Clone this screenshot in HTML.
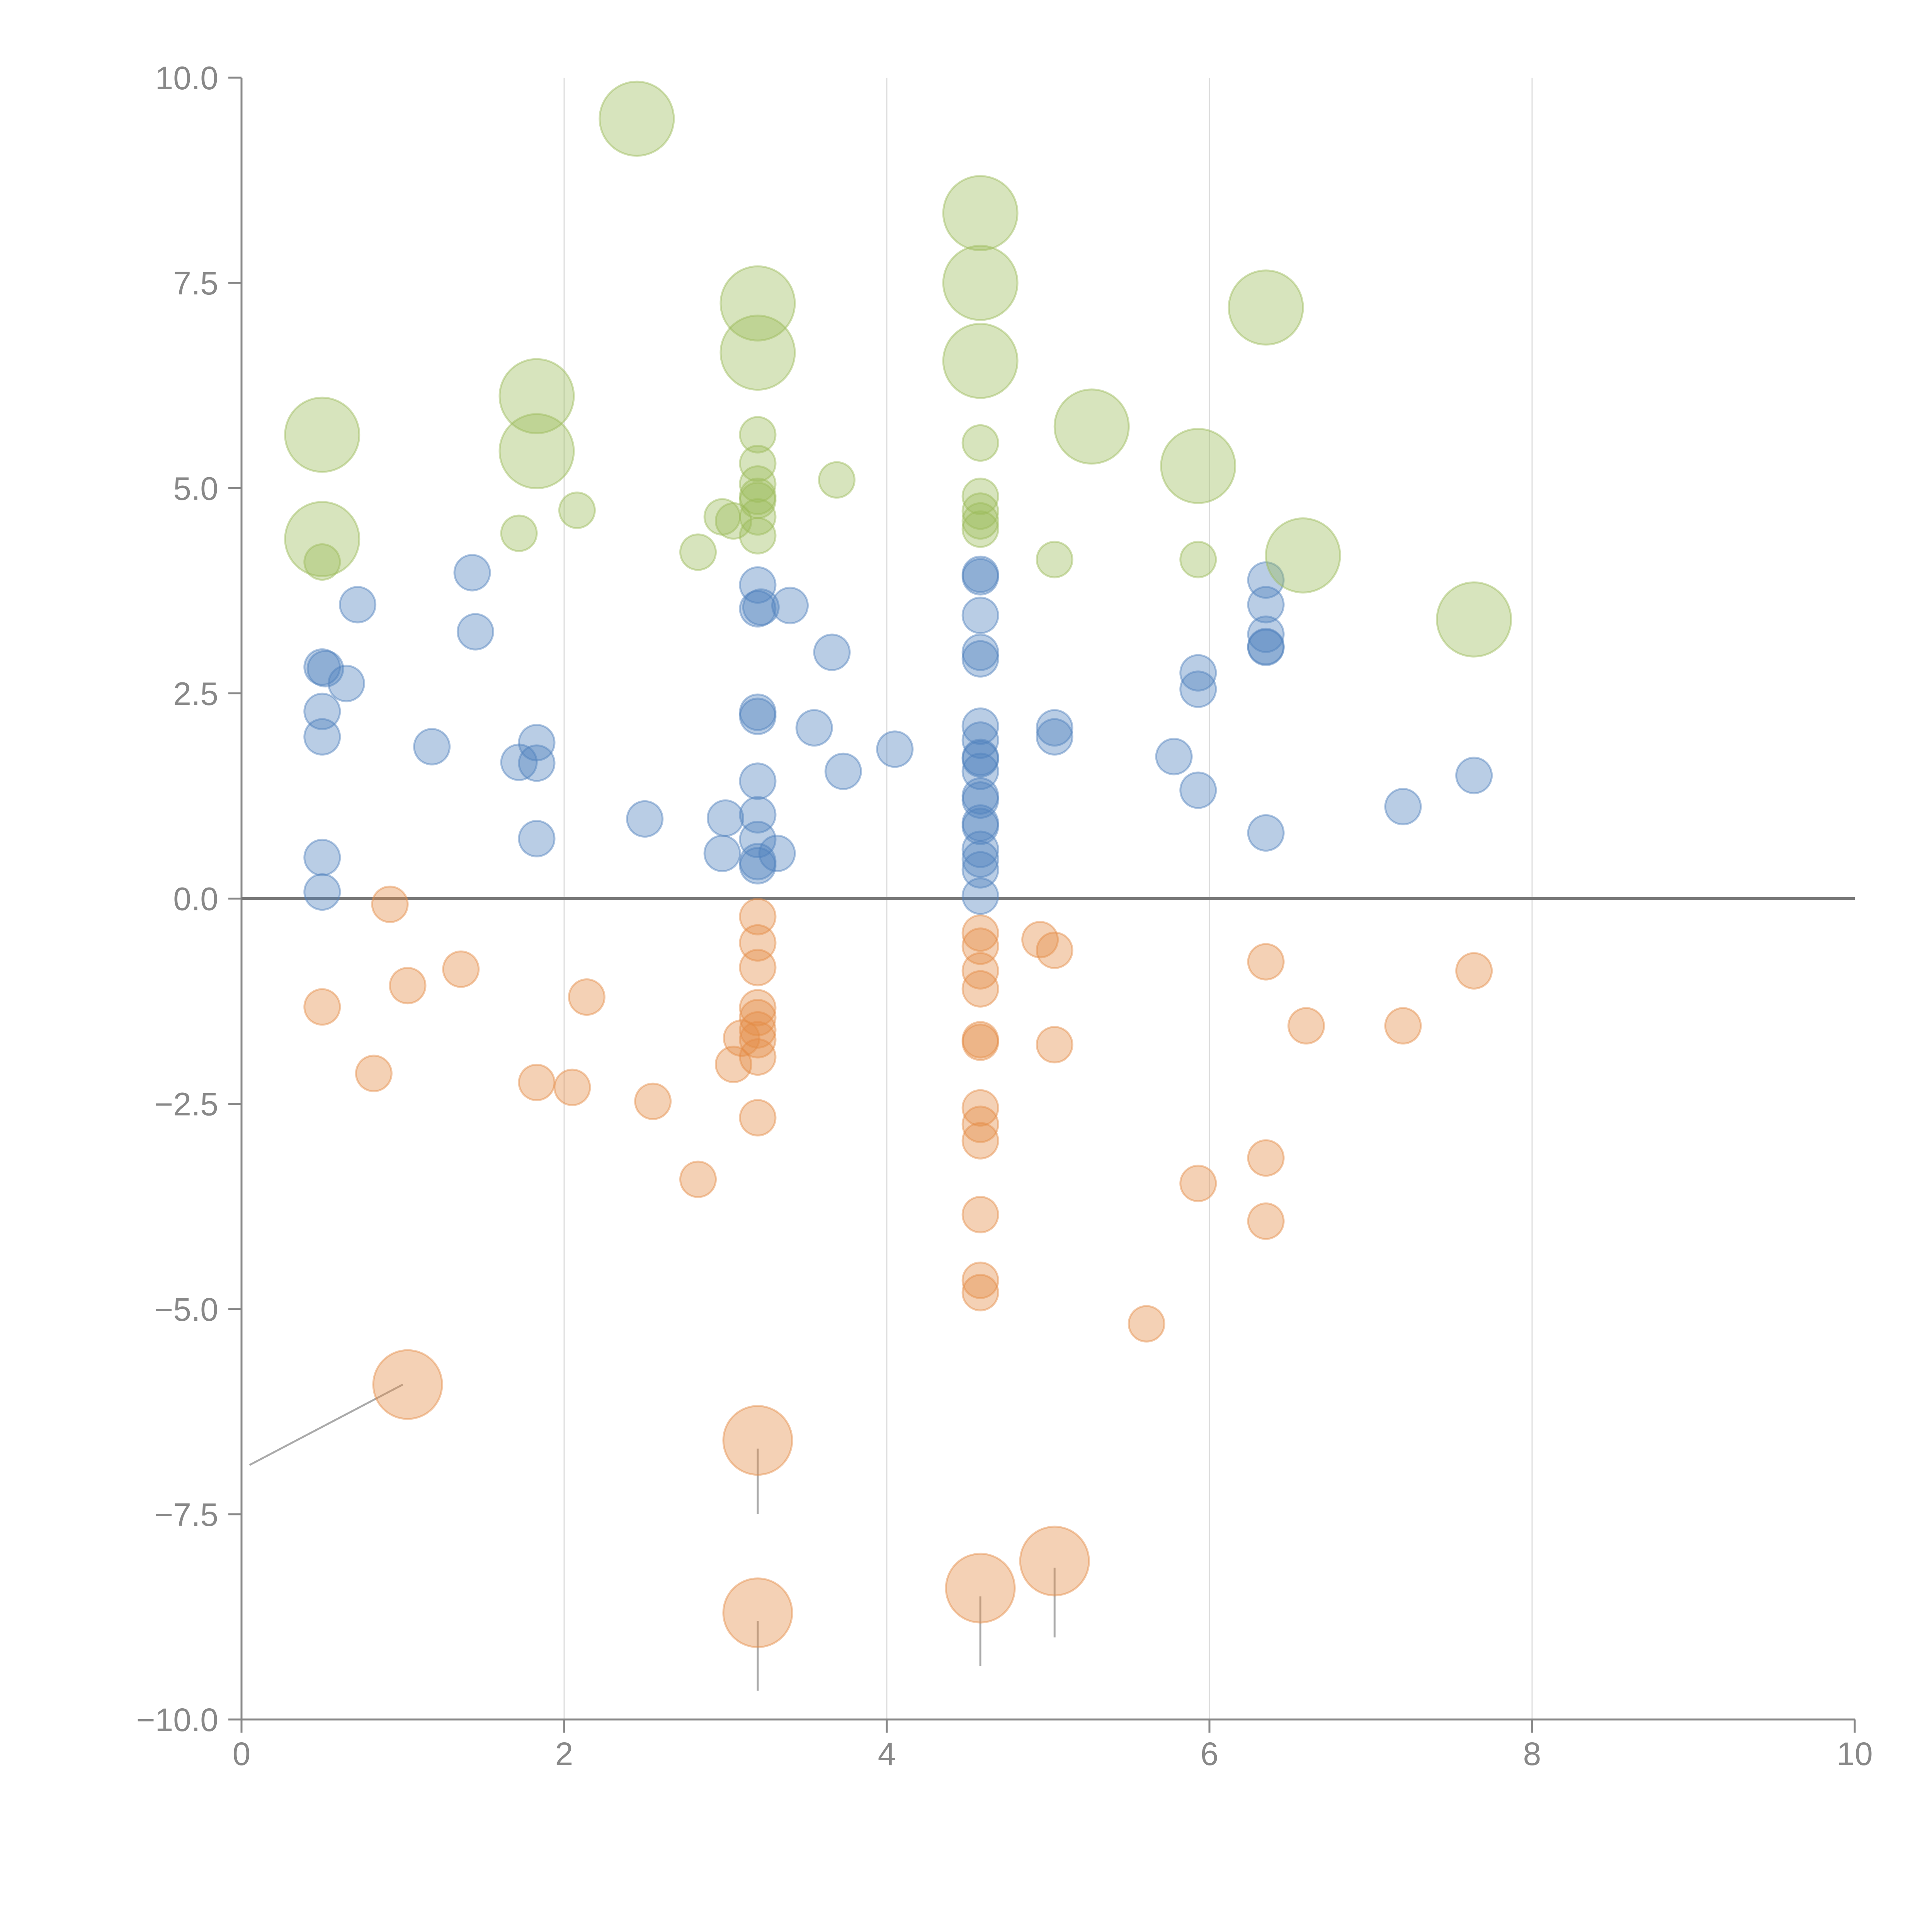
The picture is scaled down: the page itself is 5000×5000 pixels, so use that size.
<!DOCTYPE html>
<html><head><meta charset="utf-8"><style>html,body{margin:0;padding:0;background:#fff}svg{display:block}</style></head>
<body>
<svg id="chart" xmlns="http://www.w3.org/2000/svg" width="5000" height="5000" viewBox="0 0 5000 5000">
<rect width="5000" height="5000" fill="#fff"/>
<g id="grid"></g>
<g id="axes"></g>
<g id="leaders"></g>
<g id="marks"></g>
</svg>
<script>
const xTicks = [0, 2, 4, 6, 8, 10];
const xTickLabels = ["0", "2", "4", "6", "8", "10"];
const yTicks = [10, 7.5, 5, 2.5, 0, -2.5, -5, -7.5, -10];
const yTickLabels = ["10.0", "7.5", "5.0", "2.5", "0.0", "\u22122.5", "\u22125.0", "\u22127.5", "\u221210.0"];
const greenLargeX = [2.45,4.58,4.58,3.2,6.35,3.2,4.58,1.83,0.5,5.27,1.83,5.93,0.5,6.58,7.64];
const greenLargeY = [9.5,8.35,7.5,7.25,7.2,6.65,6.55,6.12,5.65,5.75,5.45,5.27,4.38,4.18,3.4];
const greenSmallX = [0.5,1.72,2.08,2.83,2.98,3.05,3.2,3.2,3.2,3.2,3.2,3.2,3.2,3.69,4.58,4.58,4.58,4.58,4.58,5.04,5.93];
const greenSmallY = [4.1,4.45,4.73,4.22,4.65,4.6,5.65,5.3,5.05,4.85,4.65,4.42,4.9,5.1,5.55,4.9,4.72,4.5,4.6,4.13,4.13];
const blueX = [0.5,0.52,0.65,0.5,0.5,0.5,0.5,0.72,1.43,1.45,1.18,1.72,1.83,1.83,1.83,2.5,2.98,3.0,3.2,3.2,3.22,3.4,3.2,3.2,3.2,3.2,3.2,3.2,3.2,3.32,3.55,3.66,3.73,4.05,4.58,4.58,4.58,4.58,4.58,4.58,4.58,4.58,4.58,4.58,4.58,4.58,4.58,4.58,4.58,4.58,4.58,4.58,5.04,5.04,5.78,5.93,5.93,5.93,6.35,6.35,6.35,6.35,6.35,6.35,7.2,7.64];
const blueY = [2.82,2.8,2.62,2.28,1.97,0.5,0.08,3.58,3.97,3.25,1.85,1.66,1.9,1.65,0.73,0.97,0.55,0.98,3.82,3.53,3.55,3.57,2.27,2.22,1.43,1.02,0.72,0.45,0.4,0.55,2.08,3.0,1.55,1.82,3.95,3.92,3.45,3.0,2.92,2.1,1.93,1.72,1.7,1.55,1.25,1.2,0.92,0.88,0.6,0.48,0.35,0.03,2.08,1.97,1.73,2.75,2.55,1.32,3.88,3.58,3.22,3.07,3.06,0.8,1.12,1.5];
const orangeX = [0.92,0.5,1.03,1.36,0.82,2.14,1.83,2.05,2.55,2.83,3.05,3.1,3.2,3.2,3.2,3.2,3.2,3.2,3.2,3.2,3.2,4.58,4.58,4.58,4.58,4.58,4.58,4.58,4.58,4.58,4.58,4.58,4.58,4.95,5.04,5.04,5.61,5.93,6.35,6.35,6.35,6.6,7.2,7.64];
const orangeY = [-0.07,-1.32,-1.06,-0.86,-2.13,-1.2,-2.24,-2.3,-2.47,-3.42,-2.02,-1.7,-0.22,-0.54,-0.84,-1.33,-1.45,-1.6,-1.72,-1.93,-2.67,-0.42,-0.58,-0.88,-1.1,-1.72,-1.75,-2.55,-2.75,-2.95,-3.85,-4.65,-4.8,-0.5,-0.63,-1.78,-5.18,-3.47,-0.77,-3.16,-3.93,-1.55,-1.55,-0.88];
const orangeLargeX = [1.03,3.2,3.2,4.58,5.04];
const orangeLargeY = [-5.92,-6.6,-8.7,-8.4,-8.07];
const leaderX1 = [1.0,3.2,3.2,4.58,5.04];
const leaderY1 = [-5.92,-6.7,-8.8,-8.5,-8.15];
const leaderX2 = [0.05,3.2,3.2,4.58,5.04];
const leaderY2 = [-6.9,-7.5,-9.65,-9.35,-9.0];

const X0=625, X1=4800, Y0=4450, Y1=201;
const sx = v => X0 + (v-0)/(10-0)*(X1-X0);
const sy = v => Y0 - (v+10)/20*(Y0-Y1);
const NS="http://www.w3.org/2000/svg";
function mk(tag, parent, attrs){const e=document.createElementNS(NS,tag);for(const k in attrs)e.setAttribute(k,attrs[k]);parent.appendChild(e);return e;}
const grid=document.getElementById('grid'), axes=document.getElementById('axes'), marks=document.getElementById('marks'), leaders=document.getElementById('leaders');

xTicks.forEach((t,i)=>{
  if(t>0 && t<10){
    const g=mk('line',grid,{x1:sx(t),x2:sx(t),y1:Y1,y2:Y0,stroke:'#dcdcdc','stroke-width':3});
    
    
  }
  const tk=mk('line',axes,{x1:sx(t),x2:sx(t),y1:Y0,y2:Y0+34,stroke:'#888','stroke-width':5});
  
  
  const tx=mk('text',axes,{x:sx(t),y:4568,'text-anchor':'middle','font-family':'Liberation Sans, Arial, sans-serif','font-size':84,fill:'#888'});
  tx.textContent=xTickLabels[i];
  
  
});
yTicks.forEach((t,i)=>{
  const tk=mk('line',axes,{x1:X0-34,x2:X0,y1:sy(t),y2:sy(t),stroke:'#888','stroke-width':5});
  
  
  const tx=mk('text',axes,{x:565,y:sy(t)+30,'text-anchor':'end','font-family':'Liberation Sans, Arial, sans-serif','font-size':84,fill:'#888'});
  tx.textContent=yTickLabels[i];
  
  
});
const ya=mk('line',axes,{x1:X0,x2:X0,y1:Y1,y2:Y0,stroke:'#888','stroke-width':5});


const xa=mk('line',axes,{x1:X0,x2:X1,y1:Y0,y2:Y0,stroke:'#888','stroke-width':5});


const zl=mk('line',axes,{x1:X0,x2:X1,y1:sy(0),y2:sy(0),stroke:'#777','stroke-width':8});



function bubbles(xs, ys, r, fill, stroke, name){
  xs.forEach((x,i)=>{
    const c=mk('circle',marks,{cx:sx(x),cy:sy(ys[i]),r:r,fill:fill,stroke:stroke,'stroke-width':5});
    
    
  });
}
bubbles(orangeX, orangeY, 46, 'rgba(228,140,70,0.4)', 'rgba(228,140,70,0.45)', 'orange-bubble');
bubbles(orangeLargeX, orangeLargeY, 89, 'rgba(228,140,70,0.4)', 'rgba(228,140,70,0.45)', 'orange-large-bubble');
bubbles(blueX, blueY, 46, 'rgba(79,129,189,0.4)', 'rgba(79,129,189,0.45)', 'blue-bubble');
bubbles(greenSmallX, greenSmallY, 46, 'rgba(155,187,89,0.4)', 'rgba(155,187,89,0.45)', 'green-bubble');
bubbles(greenLargeX, greenLargeY, 96, 'rgba(155,187,89,0.4)', 'rgba(155,187,89,0.45)', 'green-large-bubble');

leaderX1.forEach((x,i)=>{
  const l=mk('line',leaders,{x1:sx(x),y1:sy(leaderY1[i]),x2:sx(leaderX2[i]),y2:sy(leaderY2[i]),stroke:'#aaa','stroke-width':5});
  
  
});
</script>
</body></html>
